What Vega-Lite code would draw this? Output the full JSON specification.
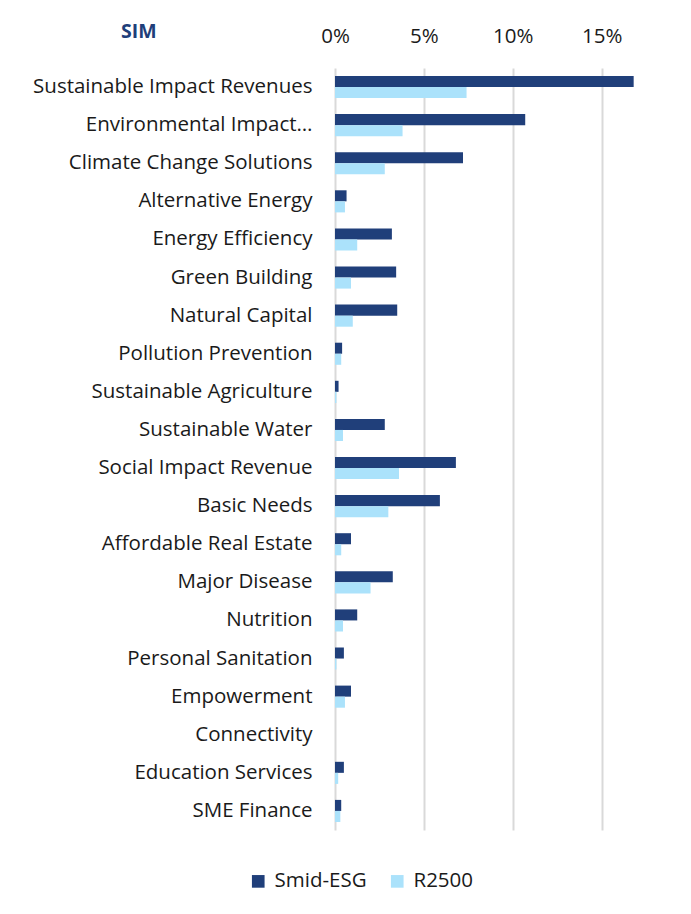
{
  "$schema": "https://vega.github.io/schema/vega-lite/v6.json",
  "autosize": {"type": "none"},
  "width": 320,
  "height": 762,
  "padding": {"left": 335, "top": 68, "right": 36, "bottom": 84},
  "background": "white",
  "title": {"text": "SIM", "anchor": "start", "frame": "group", "dx": -214, "offset": -16, "fontSize": 19.5, "font": "Open Sans", "fontWeight": "bold", "color": "#1F3F7A"},
  "data": {"values": [
    {"cat": "Sustainable Impact Revenues", "series": "Smid-ESG", "v": 0.168},
    {"cat": "Sustainable Impact Revenues", "series": "R2500", "v": 0.074},
    {"cat": "Environmental Impact…", "series": "Smid-ESG", "v": 0.107},
    {"cat": "Environmental Impact…", "series": "R2500", "v": 0.038},
    {"cat": "Climate Change Solutions", "series": "Smid-ESG", "v": 0.072},
    {"cat": "Climate Change Solutions", "series": "R2500", "v": 0.028},
    {"cat": "Alternative Energy", "series": "Smid-ESG", "v": 0.0065},
    {"cat": "Alternative Energy", "series": "R2500", "v": 0.0056},
    {"cat": "Energy Efficiency", "series": "Smid-ESG", "v": 0.032},
    {"cat": "Energy Efficiency", "series": "R2500", "v": 0.0125},
    {"cat": "Green Building", "series": "Smid-ESG", "v": 0.0344},
    {"cat": "Green Building", "series": "R2500", "v": 0.009},
    {"cat": "Natural Capital", "series": "Smid-ESG", "v": 0.035},
    {"cat": "Natural Capital", "series": "R2500", "v": 0.01},
    {"cat": "Pollution Prevention", "series": "Smid-ESG", "v": 0.004},
    {"cat": "Pollution Prevention", "series": "R2500", "v": 0.0035},
    {"cat": "Sustainable Agriculture", "series": "Smid-ESG", "v": 0.002},
    {"cat": "Sustainable Agriculture", "series": "R2500", "v": 0.0008},
    {"cat": "Sustainable Water", "series": "Smid-ESG", "v": 0.028},
    {"cat": "Sustainable Water", "series": "R2500", "v": 0.0045},
    {"cat": "Social Impact Revenue", "series": "Smid-ESG", "v": 0.068},
    {"cat": "Social Impact Revenue", "series": "R2500", "v": 0.036},
    {"cat": "Basic Needs", "series": "Smid-ESG", "v": 0.059},
    {"cat": "Basic Needs", "series": "R2500", "v": 0.03},
    {"cat": "Affordable Real Estate", "series": "Smid-ESG", "v": 0.009},
    {"cat": "Affordable Real Estate", "series": "R2500", "v": 0.0035},
    {"cat": "Major Disease", "series": "Smid-ESG", "v": 0.0325},
    {"cat": "Major Disease", "series": "R2500", "v": 0.02},
    {"cat": "Nutrition", "series": "Smid-ESG", "v": 0.0125},
    {"cat": "Nutrition", "series": "R2500", "v": 0.0045},
    {"cat": "Personal Sanitation", "series": "Smid-ESG", "v": 0.005},
    {"cat": "Personal Sanitation", "series": "R2500", "v": 0.0008},
    {"cat": "Empowerment", "series": "Smid-ESG", "v": 0.009},
    {"cat": "Empowerment", "series": "R2500", "v": 0.0056},
    {"cat": "Connectivity", "series": "Smid-ESG", "v": 0},
    {"cat": "Connectivity", "series": "R2500", "v": 0},
    {"cat": "Education Services", "series": "Smid-ESG", "v": 0.005},
    {"cat": "Education Services", "series": "R2500", "v": 0.0018},
    {"cat": "SME Finance", "series": "Smid-ESG", "v": 0.0035},
    {"cat": "SME Finance", "series": "R2500", "v": 0.003}
  ]},
  "mark": {"type": "bar", "cornerRadius": 0},
  "encoding": {
    "y": {"field": "cat", "type": "nominal", "sort": null,
      "scale": {"paddingInner": 0.42, "paddingOuter": 0.21},
      "axis": {"title": null, "ticks": false, "domain": false, "labelPadding": 23, "labelFontSize": 20.5, "labelFont": "Open Sans", "labelColor": "#1a1a1a", "labelLimit": 330}},
    "yOffset": {"field": "series", "type": "nominal", "sort": ["Smid-ESG", "R2500"], "scale": {"paddingInner": 0}},
    "x": {"field": "v", "type": "quantitative",
      "scale": {"domain": [0, 0.18], "nice": false},
      "axis": {"orient": "top", "title": null, "format": ".0%", "values": [0, 0.05, 0.1, 0.15], "ticks": false, "domain": false, "labelFlush": false, "labelPadding": 22, "labelFontSize": 20.5, "labelFont": "Open Sans", "labelColor": "#1a1a1a", "gridColor": "#d9d9d9", "gridWidth": 2}},
    "color": {"field": "series", "type": "nominal", "sort": ["Smid-ESG", "R2500"],
      "scale": {"domain": ["Smid-ESG", "R2500"], "range": ["#203F7A", "#ABE2FB"]},
      "legend": {"title": null, "orient": "none", "direction": "horizontal", "legendX": -87, "legendY": 803, "symbolType": "square", "symbolSize": 160, "symbolStrokeWidth": 0, "labelFontSize": 20.5, "labelFont": "Open Sans", "labelColor": "#1a1a1a", "columnPadding": 20, "labelOffset": 6}}
  },
  "config": {"view": {"stroke": null}}
}
